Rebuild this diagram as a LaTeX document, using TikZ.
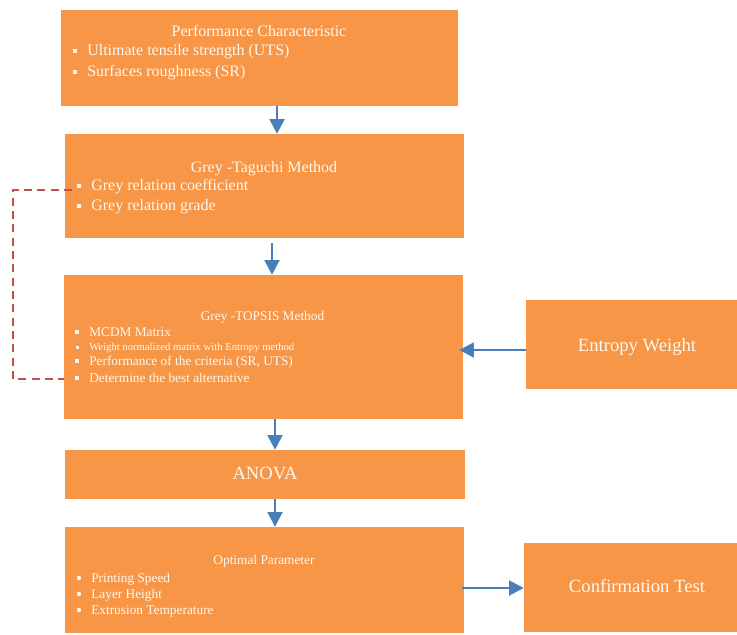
\documentclass[tikz,border=0pt]{standalone}
\usepackage{fontspec}
\setmainfont{Liberation Serif}
\usetikzlibrary{arrows.meta,calc}
\definecolor{boxorange}{HTML}{F79646}
\definecolor{arrblue}{HTML}{4A7EBB}
\definecolor{dashred}{HTML}{C0504D}
\definecolor{txtw}{HTML}{FFF8F0}
\newcommand\sqbul[3]{\fill[txtw] (#1,#2) +(-#3,-#3) rectangle +(#3,#3);}
\newcommand\rdbul[2]{\fill[txtw] (#1,#2) circle[radius=2.2];}
\begin{document}
\begin{tikzpicture}[x=0.75pt,y=-0.75pt,
  box/.style={rectangle, fill=boxorange, draw=none, inner sep=0pt, text=txtw},
  ttlA/.style={text=txtw, anchor=mid, inner sep=0pt, font=\fontsize{12pt}{14pt}\selectfont},
  ttlB/.style={text=txtw, anchor=mid, inner sep=0pt, font=\fontsize{10pt}{12pt}\selectfont},
  itmA/.style={text=txtw, anchor=mid west, inner sep=0pt, font=\fontsize{12pt}{14pt}\selectfont},
  itmB/.style={text=txtw, anchor=mid west, inner sep=0pt, font=\fontsize{10pt}{12pt}\selectfont},
  itmC/.style={text=txtw, anchor=mid west, inner sep=0pt, font=\fontsize{8pt}{10pt}\selectfont},
  bigtxt/.style={text=txtw, anchor=mid, inner sep=0pt, font=\fontsize{14pt}{17pt}\selectfont},
  arr/.style={draw=arrblue, line width=1.4pt, -{Triangle[length=11pt,width=11.25pt]}},
  dashline/.style={draw=dashred, line width=1.5pt, dash pattern=on 6pt off 4pt}
]
\useasboundingbox (0,0) rectangle (737,634);

% Box 1
\node[box, minimum width=297.75pt, minimum height=72pt] (b1) at (259.5,58) {};
\node[ttlA] (b1t) at (259,33) {Performance Characteristic};
\sqbul{75}{51}{2.2}
\node[itmA] (b1i1) at (87,52) {Ultimate tensile strength (UTS)};
\sqbul{75}{72}{2.2}
\node[itmA] (b1i2) at (87,73) {Surfaces roughness (SR)};

% Box 2
\node[box, minimum width=299.25pt, minimum height=78pt] (b2) at (264.5,186) {};
\node[ttlA] (b2t) at (264,169) {Grey -Taguchi Method};
\sqbul{79}{186}{2.2}
\node[itmA] (b2i1) at (91,187) {Grey relation coefficient};
\sqbul{79}{206}{2.2}
\node[itmA] (b2i2) at (91,207) {Grey relation grade};

% Box 3
\node[box, minimum width=299.25pt, minimum height=108pt] (b3) at (263.5,347) {};
\node[ttlB] (b3t) at (262.5,317) {Grey -TOPSIS Method};
\sqbul{77}{332}{1.9}
\node[itmB] (b3i1) at (89,333) {MCDM Matrix};
\sqbul{77}{347}{1.5}
\node[itmC] (b3i2) at (89,347.5) {Weight normalized matrix with Entropy method};
\sqbul{77}{361}{1.9}
\node[itmB] (b3i3) at (89,362) {Performance of the criteria (SR, UTS)};
\sqbul{77}{378}{1.9}
\node[itmB] (b3i4) at (89,379) {Determine the best alternative};

% Entropy weight
\node[box, minimum width=158.25pt, minimum height=66.75pt] (ew) at (631.5,344.5) {};
\node[bigtxt] (ewt) at (637,348) {Entropy Weight};

% ANOVA
\node[box, minimum width=300pt, minimum height=36.75pt] (an) at (265,474.5) {};
\node[bigtxt] (ant) at (265,476) {ANOVA};

% Box 5
\node[box, minimum width=299.25pt, minimum height=79.5pt] (b5) at (264.5,580) {};
\node[ttlB] (b5t) at (264,561) {Optimal Parameter};
\rdbul{79}{578}
\node[itmB] (b5i1) at (91,579) {Printing Speed};
\rdbul{79}{594}
\node[itmB] (b5i2) at (91,595) {Layer Height};
\rdbul{79}{610}
\node[itmB] (b5i3) at (91,611) {Extrusion Temperature};

% Confirmation test
\node[box, minimum width=159.75pt, minimum height=66.75pt] (ct) at (630.5,587.5) {};
\node[bigtxt] (ctt) at (637,589) {Confirmation Test};

% Arrows
\draw[arr] (277,0 |- b1.south) -- (277,0 |- b2.north);
\draw[arr] ($(272,0 |- b2.south)+(0,5)$) -- (272,0 |- b3.north);
\draw[arr] (275,0 |- b3.south) -- (275,0 |- an.north);
\draw[arr] (275,0 |- an.south) -- (275,0 |- b5.north);
\draw[arr] (ew.west |- 0,350) -- ($(b3.east |- 0,350)+(-4,0)$);
\draw[arr] ($(b5.east |- 0,588)+(-2,0)$) -- (ct.west |- 0,588);

% Dashed feedback
\coordinate (d0) at (72,190);
\coordinate (d1) at (13,379);
\draw[dashline] (d0) -| (d1) -- (b3.west |- d1);
\end{tikzpicture}
\end{document}
